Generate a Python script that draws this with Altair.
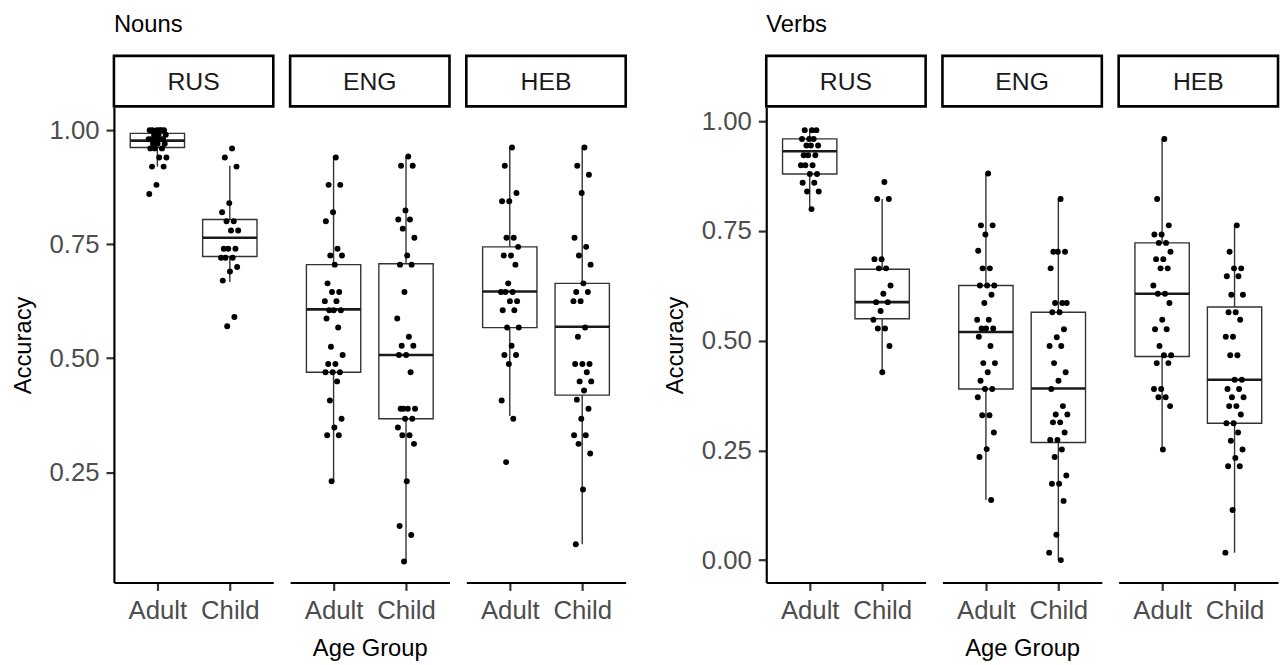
import altair as alt
import pandas as pd

FONT = "Liberation Sans"
LANGS = ["RUS", "ENG", "HEB"]
AGES = ["Adult", "Child"]

# ---------------- individual accuracy scores ----------------
nouns_rus_adult = [1.0, 1.0, 1.0, 1.0, 1.0, 1.0, 0.99, 0.99, 0.99, 0.98, 0.98, 0.98, 0.98, 0.98,
                   0.97, 0.97, 0.97, 0.96, 0.96, 0.96, 0.94, 0.94, 0.92, 0.92, 0.88, 0.86]
nouns_rus_child = [0.96, 0.94, 0.92, 0.84, 0.82, 0.80, 0.80, 0.78, 0.78, 0.74, 0.74, 0.74,
                   0.72, 0.72, 0.72, 0.70, 0.69, 0.67, 0.59, 0.57]
nouns_eng_adult = [0.94, 0.88, 0.88, 0.82, 0.80, 0.74, 0.725, 0.725, 0.705, 0.664, 0.645, 0.645,
                   0.625, 0.625, 0.605, 0.605, 0.605, 0.587, 0.567, 0.525, 0.507, 0.487, 0.487,
                   0.469, 0.469, 0.469, 0.449, 0.407, 0.367, 0.348, 0.331, 0.331, 0.23]
nouns_eng_child = [0.942, 0.922, 0.922, 0.824, 0.804, 0.804, 0.784, 0.764, 0.725, 0.705, 0.705,
                   0.645, 0.587, 0.547, 0.527, 0.527, 0.507, 0.507, 0.469, 0.389, 0.389, 0.389,
                   0.389, 0.367, 0.367, 0.348, 0.331, 0.331, 0.312, 0.23, 0.132, 0.112, 0.054]
nouns_heb_adult = [0.962, 0.922, 0.862, 0.844, 0.844, 0.764, 0.764, 0.744, 0.725, 0.725, 0.705,
                   0.664, 0.645, 0.645, 0.645, 0.625, 0.625, 0.605, 0.605, 0.567, 0.567, 0.527,
                   0.507, 0.507, 0.487, 0.407, 0.367, 0.272]
nouns_heb_child = [0.962, 0.922, 0.902, 0.862, 0.764, 0.744, 0.725, 0.705, 0.664, 0.645, 0.645,
                   0.625, 0.625, 0.567, 0.547, 0.487, 0.487, 0.487, 0.469, 0.449, 0.449, 0.429,
                   0.409, 0.389, 0.367, 0.331, 0.331, 0.312, 0.291, 0.212, 0.092]

verbs_rus_adult = [0.98, 0.98, 0.98, 0.96, 0.96, 0.96, 0.945, 0.945, 0.945, 0.923, 0.923, 0.923,
                   0.90, 0.90, 0.90, 0.88, 0.88, 0.86, 0.86, 0.84, 0.84, 0.80]
verbs_rus_child = [0.862, 0.823, 0.823, 0.686, 0.686, 0.665, 0.665, 0.626, 0.607, 0.588, 0.588,
                   0.568, 0.548, 0.528, 0.528, 0.488, 0.428]
verbs_eng_adult = [0.881, 0.763, 0.763, 0.742, 0.705, 0.665, 0.665, 0.626, 0.626, 0.626, 0.605,
                   0.586, 0.548, 0.548, 0.528, 0.528, 0.528, 0.509, 0.488, 0.449, 0.449, 0.428,
                   0.409, 0.390, 0.390, 0.371, 0.330, 0.330, 0.291, 0.253, 0.235, 0.137]
verbs_eng_child = [0.823, 0.703, 0.703, 0.703, 0.665, 0.586, 0.586, 0.586, 0.565, 0.565, 0.526,
                   0.508, 0.488, 0.488, 0.449, 0.428, 0.409, 0.390, 0.351, 0.332, 0.332, 0.314,
                   0.314, 0.291, 0.274, 0.274, 0.252, 0.235, 0.193, 0.174, 0.174, 0.135, 0.058,
                   0.017, 0.0]
verbs_heb_adult = [0.960, 0.823, 0.763, 0.742, 0.742, 0.723, 0.723, 0.703, 0.686, 0.686, 0.665,
                   0.665, 0.626, 0.607, 0.607, 0.586, 0.548, 0.526, 0.526, 0.488, 0.467, 0.467,
                   0.449, 0.449, 0.390, 0.390, 0.371, 0.371, 0.351, 0.252]
verbs_heb_child = [0.763, 0.703, 0.665, 0.665, 0.647, 0.647, 0.605, 0.605, 0.565, 0.565, 0.548,
                   0.509, 0.509, 0.467, 0.467, 0.411, 0.411, 0.390, 0.390, 0.371, 0.371, 0.351,
                   0.351, 0.332, 0.312, 0.312, 0.291, 0.272, 0.252, 0.233, 0.214, 0.214, 0.114,
                   0.017]

# ---------------- box statistics (order: RUS-A, RUS-C, ENG-A, ENG-C, HEB-A, HEB-C) ----------------
nouns_lo = [0.920, 0.667, 0.230, 0.054, 0.373, 0.092]
nouns_q1 = [0.962, 0.723, 0.469, 0.367, 0.567, 0.419]
nouns_med = [0.977, 0.764, 0.607, 0.507, 0.646, 0.569]
nouns_q3 = [0.993, 0.804, 0.705, 0.707, 0.744, 0.664]
nouns_hi = [1.000, 0.922, 0.942, 0.942, 0.962, 0.962]

verbs_lo = [0.804, 0.428, 0.137, 0.000, 0.252, 0.017]
verbs_q1 = [0.880, 0.550, 0.390, 0.268, 0.464, 0.312]
verbs_med = [0.932, 0.588, 0.520, 0.391, 0.607, 0.411]
verbs_q3 = [0.960, 0.663, 0.626, 0.565, 0.723, 0.577]
verbs_hi = [0.979, 0.823, 0.881, 0.823, 0.960, 0.763]

nouns_y_domain = [0.008, 1.05]
nouns_y_ticks = [0.25, 0.5, 0.75, 1.0]
verbs_y_domain = [-0.051, 1.032]
verbs_y_ticks = [0.0, 0.25, 0.5, 0.75, 1.0]

W, H = 161, 480
GAP = 17
BLOCK_GAP = 142


def build_points(groups):
    rows = []
    for (lang, age), vals in groups.items():
        for v in vals:
            rows.append({"lang": lang, "age": age, "pos": AGES.index(age) + 1, "value": v})
    return pd.DataFrame(rows)


def build_box(lo, q1, med, q3, hi):
    rows = []
    i = 0
    for lang in LANGS:
        for k, age in enumerate(AGES):
            rows.append(dict(lang=lang, age=age, pos=k + 1, lo=lo[i], q1=q1[i],
                             med=med[i], q3=q3[i], hi=hi[i]))
            i += 1
    return pd.DataFrame(rows)


nouns_pts = build_points({
    ("RUS", "Adult"): nouns_rus_adult, ("RUS", "Child"): nouns_rus_child,
    ("ENG", "Adult"): nouns_eng_adult, ("ENG", "Child"): nouns_eng_child,
    ("HEB", "Adult"): nouns_heb_adult, ("HEB", "Child"): nouns_heb_child,
})
verbs_pts = build_points({
    ("RUS", "Adult"): verbs_rus_adult, ("RUS", "Child"): verbs_rus_child,
    ("ENG", "Adult"): verbs_eng_adult, ("ENG", "Child"): verbs_eng_child,
    ("HEB", "Adult"): verbs_heb_adult, ("HEB", "Child"): verbs_heb_child,
})
nouns_box = build_box(nouns_lo, nouns_q1, nouns_med, nouns_q3, nouns_hi)
verbs_box = build_box(verbs_lo, verbs_q1, verbs_med, verbs_q3, verbs_hi)


def panel(task, lang, pts, box, ydom, yticks, first, middle):
    xs = alt.Scale(domain=[0.4, 2.6], nice=False, zero=False)
    ys = alt.Scale(domain=ydom, nice=False, zero=False)
    xax = alt.Axis(values=[1, 2], labelExpr="datum.value == 1 ? 'Adult' : 'Child'",
                   title="Age Group" if middle else "", labelFlush=False,
                   labelOverlap=False, grid=False)
    if first:
        yax = alt.Axis(values=yticks, format=".2f", title="Accuracy", grid=False)
    else:
        yax = None

    def X(f):
        return alt.X(f, type="quantitative", scale=xs, axis=xax)

    def Y(f):
        return alt.Y(f, type="quantitative", scale=ys, axis=yax)

    b = alt.Chart(box[box.lang == lang])
    p = alt.Chart(pts[pts.lang == lang])
    lab = alt.Chart(pd.DataFrame({"lang": [lang], "task": [task if first else ""]}))

    strip = lab.mark_rect(fill="white", stroke="black", strokeWidth=2.6).encode(
        x=alt.value(0), x2=alt.value(W), y=alt.value(-52), y2=alt.value(-1))
    strip_txt = lab.mark_text(font=FONT, fontSize=25, color="#1a1a1a").encode(
        x=alt.value(W / 2), y=alt.value(-26), text="lang:N")
    layers = [strip, strip_txt]
    if first:
        layers.append(lab.mark_text(font=FONT, fontSize=24, color="black", align="left",
                                    baseline="middle").encode(
            x=alt.value(0), y=alt.value(-83), text="task:N"))

    whisk = b.mark_rule(color="#333333", strokeWidth=1.4).encode(
        x=X("pos"), y=Y("lo"), y2="hi")
    boxes = b.mark_rect(fill="white", stroke="#333333", strokeWidth=1.4).transform_calculate(
        xl="datum.pos - 0.375", xr="datum.pos + 0.375").encode(
        x=X("xl"), x2="xr:Q", y=Y("q1"), y2="q3:Q")
    median = b.mark_rule(color="#1a1a1a", strokeWidth=2.6).transform_calculate(
        xl="datum.pos - 0.375", xr="datum.pos + 0.375").encode(
        x=X("xl"), x2="xr:Q", y=Y("med"))
    dots = p.mark_circle(size=36, color="black", opacity=1).transform_window(
        idx="row_number()", groupby=["age"]).transform_calculate(
        xj="datum.pos + ((datum.idx * 0.6180339887) % 1 - 0.5) * 0.26").encode(
        x=X("xj"), y=Y("value"))

    layers += [whisk, boxes, median, dots]
    return alt.layer(*layers).properties(width=W, height=H)


def block(task, pts, box, ydom, yticks):
    return [panel(task, lang, pts, box, ydom, yticks, i == 0, i == 1)
            for i, lang in enumerate(LANGS)]


# invisible spacer that widens the gap between the Nouns and the Verbs blocks
spacer = alt.Chart(pd.DataFrame({"s": [0]})).mark_point(opacity=0).encode(
    x=alt.value(0), y=alt.value(0)).properties(width=BLOCK_GAP - 2 * GAP, height=H)

panels = (block("Nouns", nouns_pts, nouns_box, nouns_y_domain, nouns_y_ticks)
          + [spacer]
          + block("Verbs", verbs_pts, verbs_box, verbs_y_domain, verbs_y_ticks))

chart = alt.hconcat(*panels, spacing=GAP, bounds="flush").properties(
    padding={"left": 3, "top": 2, "right": 0, "bottom": 0},
    background="white",
).configure_view(
    strokeWidth=0
).configure_axis(
    domainColor="black", domainWidth=2.2, tickColor="#333333", tickWidth=2.2, tickSize=8,
    labelFont=FONT, labelFontSize=26, labelColor="#4d4d4d", labelPadding=7,
    titleFont=FONT, titleFontSize=24, titleColor="black", titleFontWeight="normal",
    titlePadding=14, grid=False,
)

chart.save("out.html", embed_options={"renderer": "svg", "actions": False})
